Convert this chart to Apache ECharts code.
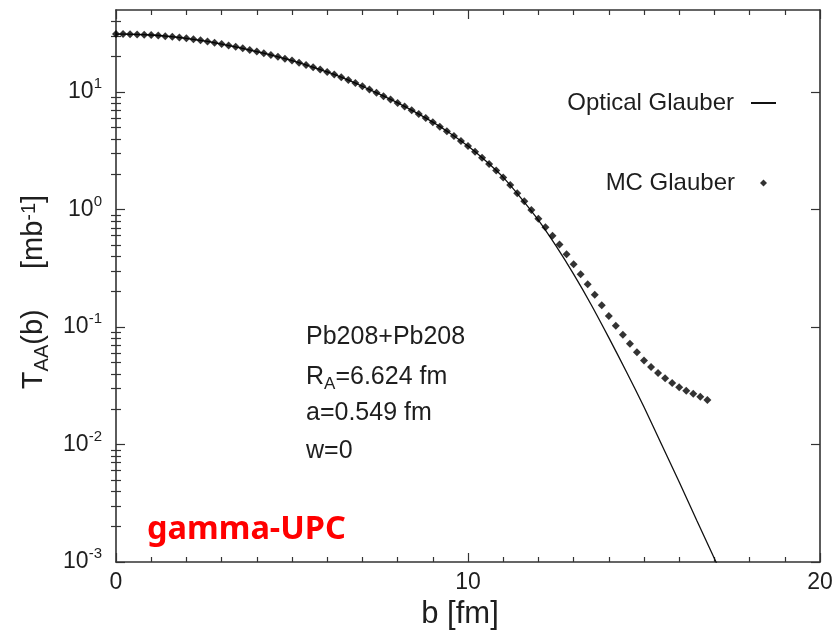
<!DOCTYPE html>
<html>
<head>
<meta charset="utf-8">
<script src="https://cdn.jsdelivr.net/npm/echarts@6/dist/echarts.min.js"></script>
<style>html,body{margin:0;padding:0;background:#fff}#c{width:835px;height:630px}</style>
</head>
<body>
<div id="c"></div>
<script>
// ---- data ----
const bOptical = [0, 0.5, 1, 1.5, 2, 2.5, 3, 3.5, 4, 4.5, 5, 5.5, 6, 6.5, 7, 7.5, 8, 8.5, 9, 9.5,
  10, 10.5, 11, 11.5, 12, 12.5, 13, 13.5, 14, 14.5, 15, 15.5, 16, 16.5, 17, 17.5];
const tOptical = [31.19, 31.05, 30.62, 29.79, 28.71, 27.29, 25.64, 23.93, 22.13, 20.32, 18.54, 16.67,
  14.86, 13.03, 11.22, 9.55, 8.09, 6.76, 5.55, 4.45, 3.47, 2.60, 1.88, 1.26, 0.813, 0.490, 0.282,
  0.155, 0.0813, 0.0417, 0.0209, 0.0100, 0.00479, 0.00226, 0.00107, 0.000507];

const bMC = [0, 0.2, 0.4, 0.6, 0.8, 1, 1.2, 1.4, 1.6, 1.8, 2, 2.2, 2.4, 2.6, 2.8, 3, 3.2, 3.4, 3.6, 3.8,
  4, 4.2, 4.4, 4.6, 4.8, 5, 5.2, 5.4, 5.6, 5.8, 6, 6.2, 6.4, 6.6, 6.8, 7, 7.2, 7.4, 7.6, 7.8,
  8, 8.2, 8.4, 8.6, 8.8, 9, 9.2, 9.4, 9.6, 9.8, 10, 10.2, 10.4, 10.6, 10.8, 11, 11.2, 11.4, 11.6, 11.8,
  12, 12.2, 12.4, 12.6, 12.8, 13, 13.2, 13.4, 13.6, 13.8, 14, 14.2, 14.4, 14.6, 14.8, 15, 15.2, 15.4, 15.6, 15.8,
  16, 16.2, 16.4, 16.6, 16.8];
const tMC = [31.19, 31.17, 31.10, 30.97, 30.81, 30.62, 30.29, 29.96, 29.58, 29.16,
  28.71, 28.16, 27.58, 26.98, 26.33, 25.64, 24.96, 24.27, 23.58, 22.85,
  22.13, 21.40, 20.68, 19.96, 19.24, 18.54, 17.77, 17.03, 16.31, 15.58,
  14.86, 14.11, 13.39, 12.66, 11.94, 11.22, 10.53, 9.87, 9.24, 8.66,
  8.09, 7.54, 7.02, 6.51, 6.02, 5.55, 5.08, 4.65, 4.24, 3.84,
  3.47, 3.10, 2.76, 2.44, 2.15, 1.88, 1.62, 1.38, 1.175, 0.992,
  0.836, 0.708, 0.600, 0.504, 0.417, 0.343, 0.282, 0.231, 0.188, 0.153,
  0.1245, 0.1028, 0.0859, 0.0721, 0.0610, 0.0519, 0.0456, 0.0406, 0.0366, 0.0334,
  0.0308, 0.0287, 0.0271, 0.0255, 0.0239];

const xTickValues = [0, 10, 20];
const yMajorTicks = [0.001, 0.01, 0.1, 1, 10];
const yMinorTicks = [0.002, 0.003, 0.004, 0.005, 0.006, 0.007, 0.008, 0.009,
  0.02, 0.03, 0.04, 0.05, 0.06, 0.07, 0.08, 0.09,
  0.2, 0.3, 0.4, 0.5, 0.6, 0.7, 0.8, 0.9,
  2, 3, 4, 5, 6, 7, 8, 9, 20, 30, 40];
const yMin = 0.001, yMax = 50;

const seriesNames = ['Optical Glauber', 'MC Glauber'];
const infoLines = ['Pb208+Pb208', 'R_A=6.624 fm', 'a=0.549 fm', 'w=0'];
const tagText = 'gamma-UPC';

// ---- styling ----
const FF = '"Liberation Sans", Arial, Helvetica, sans-serif';
const TXT = '#1e1e1e';
const AX = '#333';
const axLine = {show: true, onZero: false, lineStyle: {color: AX, width: 1.6}};

const chart = echarts.init(document.getElementById('c'), null, {renderer: 'canvas'});

function yAxisBase(pos) {
  return {type: 'log', logBase: 10, min: yMin, max: yMax, position: pos,
    splitLine: {show: false}, minorTick: {show: false}, minorSplitLine: {show: false}};
}

const infoParts = infoLines[1].split('_');           // ['R', 'A=6.624 fm']
const infoSub = infoParts[1].split('=')[0];           // 'A'
const infoRest = infoParts[1].slice(infoSub.length);  // '=6.624 fm'

const option = {
  backgroundColor: '#fff',
  animation: false,
  grid: {left: 116, right: 15, top: 10, bottom: 68, outerBoundsMode: 'none', containLabel: false},
  xAxis: [
    {type: 'value', min: xTickValues[0], max: xTickValues[xTickValues.length - 1],
      interval: xTickValues[1] - xTickValues[0], position: 'bottom',
      axisLine: axLine,
      axisTick: {show: true, inside: true, length: 9, lineStyle: {color: AX, width: 1.2}},
      minorTick: {show: true, splitNumber: 10, length: 5, lineStyle: {color: AX, width: 1.2}},
      splitLine: {show: false},
      axisLabel: {fontSize: 23, color: TXT, fontFamily: FF, margin: 9},
      name: 'b [fm]', nameLocation: 'middle', nameGap: 33,
      nameTextStyle: {fontSize: 31, color: TXT, fontFamily: FF, padding: [0, 16, 0, 0]}},
    {type: 'value', min: xTickValues[0], max: xTickValues[xTickValues.length - 1],
      interval: xTickValues[1] - xTickValues[0], position: 'top',
      axisLine: axLine,
      axisTick: {show: true, inside: true, length: 9, lineStyle: {color: AX, width: 1.2}},
      minorTick: {show: true, splitNumber: 10, length: 5, lineStyle: {color: AX, width: 1.2}},
      splitLine: {show: false}, axisLabel: {show: false}}
  ],
  yAxis: [
    Object.assign(yAxisBase('left'), {
      axisLine: axLine,
      axisTick: {show: true, inside: true, length: 9, customValues: yMajorTicks, lineStyle: {color: AX, width: 1.2}},
      axisLabel: {customValues: yMajorTicks, margin: 14,
        formatter: v => '{b|10}{s|' + Math.round(Math.log10(v)) + '}',
        rich: {
          b: {fontSize: 23, lineHeight: 23, fontFamily: FF, color: TXT, verticalAlign: 'bottom'},
          s: {fontSize: 15, lineHeight: 15, fontFamily: FF, color: TXT, verticalAlign: 'bottom', padding: [0, 0, 12, 0]}
        }},
      name: '{t|T}{sub|AA}{t|(b)     [mb}{sup|-1}{t|]}',
      nameLocation: 'middle', nameRotate: 90, nameGap: 62,
      nameTextStyle: {padding: [0, 12, 0, 0], rich: {
        t: {fontSize: 29, lineHeight: 33, fontFamily: FF, color: TXT, verticalAlign: 'top'},
        sub: {fontSize: 20, lineHeight: 20, fontFamily: FF, color: TXT, verticalAlign: 'bottom', padding: [20, 0, 0, 0]},
        sup: {fontSize: 20, lineHeight: 20, fontFamily: FF, color: TXT, verticalAlign: 'top'}
      }}
    }),
    Object.assign(yAxisBase('left'), {
      axisLine: {show: false},
      axisTick: {show: true, inside: true, length: 5, customValues: yMinorTicks, lineStyle: {color: AX, width: 1.2}},
      axisLabel: {show: false}
    }),
    Object.assign(yAxisBase('right'), {
      axisLine: axLine,
      axisTick: {show: true, inside: true, length: 9, customValues: yMajorTicks, lineStyle: {color: AX, width: 1.2}},
      axisLabel: {show: false}
    }),
    Object.assign(yAxisBase('right'), {
      axisLine: {show: false},
      axisTick: {show: true, inside: true, length: 5, customValues: yMinorTicks, lineStyle: {color: AX, width: 1.2}},
      axisLabel: {show: false}
    })
  ],
  legend: [
    {data: [seriesNames[0]], orient: 'vertical', right: 58, top: 91, padding: 0,
      align: 'right', itemWidth: 25, itemHeight: 12, itemStyle: {opacity: 0},
      formatter: n => '{t|' + n + '}{g|}',
      textStyle: {rich: {t: {fontSize: 24, fontFamily: FF, color: TXT}, g: {width: 12}}}},
    {data: [seriesNames[1]], orient: 'vertical', right: 68, top: 171, padding: 0,
      align: 'right', itemWidth: 7, itemHeight: 7,
      formatter: n => '{t|' + n + '}{g|}',
      textStyle: {rich: {t: {fontSize: 24, fontFamily: FF, color: TXT}, g: {width: 20}}}}
  ],
  graphic: [
    {type: 'text', x: 306, y: 337, style: {text: infoLines[0], font: '25px ' + FF, fill: TXT, verticalAlign: 'middle'}},
    {type: 'text', x: 306, y: 379, style: {
      text: '{n|' + infoParts[0] + '}{sub|' + infoSub + '}{n|' + infoRest + '}',
      verticalAlign: 'middle',
      rich: {
        n: {fontSize: 25, lineHeight: 28, fontFamily: FF, fill: TXT, verticalAlign: 'top'},
        sub: {fontSize: 17, lineHeight: 17, fontFamily: FF, fill: TXT, verticalAlign: 'bottom', padding: [17, 0, 0, 0]}
      }}},
    {type: 'text', x: 306, y: 413, style: {text: infoLines[2], font: '25px ' + FF, fill: TXT, verticalAlign: 'middle'}},
    {type: 'text', x: 306, y: 451, style: {text: infoLines[3], font: '25px ' + FF, fill: TXT, verticalAlign: 'middle'}},
    {type: 'text', x: 147, y: 530, style: {text: tagText, font: 'bold 32.5px "Noto Sans"', fill: '#ff0000', verticalAlign: 'middle'}}
  ],
  series: [
    {name: seriesNames[0], type: 'line', xAxisIndex: 0, yAxisIndex: 0,
      data: bOptical.map((b, i) => [b, tOptical[i]]),
      symbol: 'none', smooth: 0.2, clip: true,
      lineStyle: {color: '#111', width: 1.3}, itemStyle: {color: '#111'}, z: 2},
    {name: seriesNames[1], type: 'scatter', xAxisIndex: 0, yAxisIndex: 0,
      data: bMC.map((b, i) => [b, tMC[i]]),
      symbol: 'diamond', symbolSize: 8,
      itemStyle: {color: '#000'}, z: 3}
  ]
};
chart.setOption(option);
</script>
</body>
</html>
